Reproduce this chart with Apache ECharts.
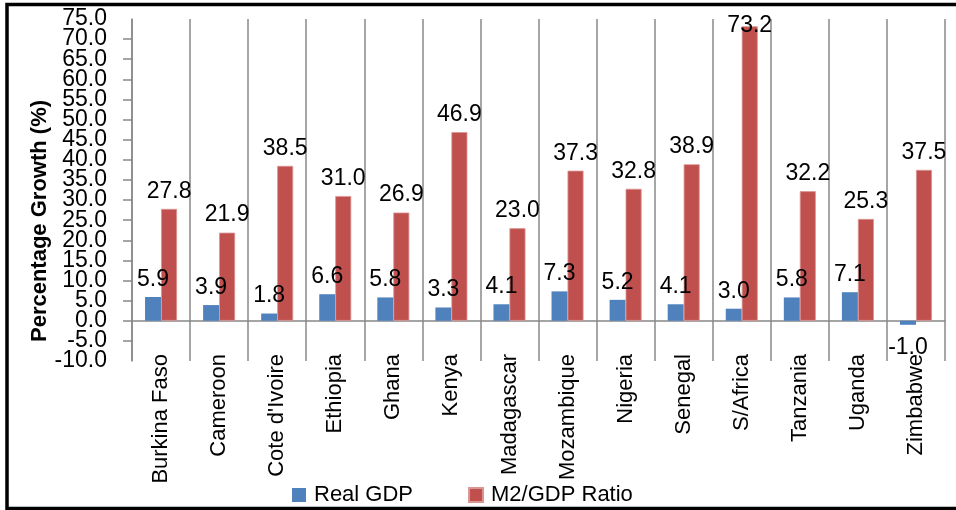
<!DOCTYPE html>
<html>
<head>
<meta charset="utf-8">
<script src="https://cdn.jsdelivr.net/npm/echarts@6/dist/echarts.min.js"></script>
<style>
html,body{margin:0;padding:0;background:#fff;}
#chart{width:956px;height:510px;}
</style>
</head>
<body>
<div id="chart"></div>
<script>
var categories = ["Burkina Faso","Cameroon","Cote d'Ivoire","Ethiopia","Ghana","Kenya","Madagascar","Mozambique","Nigeria","Senegal","S/Africa","Tanzania","Uganda","Zimbabwe"];
var realGDP = [5.9, 3.9, 1.8, 6.6, 5.8, 3.3, 4.1, 7.3, 5.2, 4.1, 3.0, 5.8, 7.1, -1.0];
var m2GDP = [27.8, 21.9, 38.5, 31.0, 26.9, 46.9, 23.0, 37.3, 32.8, 38.9, 73.2, 32.2, 25.3, 37.5];
var seriesNames = ["Real GDP", "M2/GDP Ratio"];
var yTitle = "Percentage Growth (%)";
var yMin = -10, yMax = 75, yStep = 5;

var FONT = "Liberation Sans";
var chart = echarts.init(document.getElementById('chart'));
function fmt(p){ return Number(p.value).toFixed(1); }
function clampTop(p){
  var r = p.labelRect;
  if (r.y < 14) { return { x: r.x + r.width / 2, y: 14, align: 'center', verticalAlign: 'top' }; }
  return {};
}
function toData(arr){
  return arr.map(function(v){
    return v < 0 ? { value: v, label: { position: 'bottom', distance: 11 } } : v;
  });
}
var yLabelBase = { margin: 25, fontFamily: FONT, fontSize: 23, color: '#000', interval: 0, hideOverlap: false };
chart.setOption({
  animation: false,
  backgroundColor: '#fff',
  textStyle: { fontFamily: FONT },
  grid: { left: 132, top: 19, right: 11, bottom: 149, containLabel: false, outerBoundsMode: 'none' },
  legend: {
    left: 292, top: 484, padding: 0,
    itemWidth: 14, itemHeight: 14, itemGap: 55,
    icon: 'rect',
    textStyle: { fontFamily: FONT, fontSize: 22, color: '#000', padding: [0,0,0,3] },
    data: seriesNames
  },
  xAxis: {
    type: 'category',
    data: categories,
    boundaryGap: true,
    axisLine: { show: true, onZero: true, onZeroAxisIndex: 0, lineStyle: { color: '#888', width: 1.5 } },
    axisTick: { show: false },
    splitLine: { show: true, interval: 0, lineStyle: { color: '#888', width: 1.5 } },
    axisLabel: { interval: 0, rotate: 90, margin: -7, fontFamily: FONT, fontSize: 22, color: '#000' }
  },
  yAxis: [
    {
      type: 'value', position: 'left',
      min: yMin, max: yMax, interval: yStep,
      axisLine: { show: true, lineStyle: { color: '#888', width: 1.5 } },
      axisTick: { show: true, length: 9, lineStyle: { color: '#888', width: 1.5 } },
      splitLine: { show: false },
      axisLabel: Object.assign({}, yLabelBase, { showMinLabel: false, showMaxLabel: false,
        formatter: function(v){ return v.toFixed(1); } })
    },
    {
      type: 'value', position: 'left', offset: 0,
      min: yMin, max: yMax, interval: yStep,
      axisLine: { show: false }, axisTick: { show: false }, splitLine: { show: false },
      axisLabel: Object.assign({}, yLabelBase, { showMinLabel: true, showMaxLabel: true,
        formatter: function(v){ return (v === yMin || v === yMax) ? v.toFixed(1) : ''; } })
    }
  ],
  series: [
    {
      name: seriesNames[0], type: 'bar', data: toData(realGDP), yAxisIndex: 0,
      barWidth: 16, barGap: '0%',
      itemStyle: { color: '#4F81BD' },
      label: { show: true, position: 'top', distance: 6, formatter: fmt,
        fontFamily: FONT, fontSize: 23, color: '#000' },
      labelLayout: clampTop
    },
    {
      name: seriesNames[1], type: 'bar', data: toData(m2GDP), yAxisIndex: 0,
      barWidth: 16, barGap: '0%',
      itemStyle: { color: '#C0504D', borderColor: '#D99694', borderWidth: 0.8 },
      label: { show: true, position: 'top', distance: 6, formatter: fmt,
        fontFamily: FONT, fontSize: 23, color: '#000' },
      labelLayout: clampTop
    }
  ],
  graphic: [
    { type: 'rect', z: 100, silent: true,
      shape: { x: 7, y: 4.5, width: 960, height: 504 },
      style: { fill: 'none', stroke: '#000', lineWidth: 3.5 } },
    { type: 'text', x: 40, y: 221, rotation: Math.PI/2,
      style: { text: yTitle, fontFamily: FONT, fontSize: 22, fontWeight: 'bold',
        fill: '#000', align: 'center', verticalAlign: 'middle' } }
  ]
});
</script>
</body>
</html>
